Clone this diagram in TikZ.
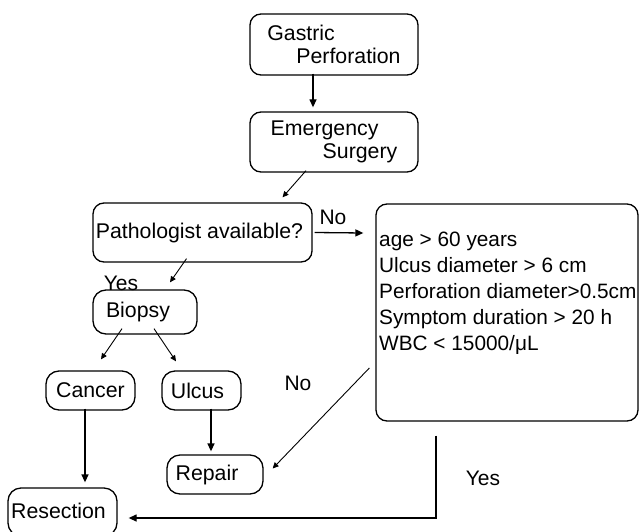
\documentclass[tikz,border=0pt]{standalone}
\usepackage{fontspec}
\setmainfont{Liberation Sans}
\usetikzlibrary{arrows.meta,calc}
\begin{document}
\begin{tikzpicture}[x=1pt,y=-1pt,
  box/.style={draw,line width=1.3pt,rounded corners=11pt,inner sep=0pt,font=\fontsize{21.3}{23}\selectfont},
  smallbox/.style={box,rounded corners=13pt},
  lbl/.style={inner sep=0pt,font=\fontsize{21}{23}\selectfont},
  arr/.style={line width=1.3pt,-{Triangle[length=8pt,width=7pt]}},
  darr/.style={line width=0.9pt,-{Triangle[length=6pt,width=5.5pt]}}]
\useasboundingbox (0,0) rectangle (639,532);
\clip (0,0) rectangle (639,532);
\node[box,minimum width=168pt,minimum height=61pt,align=left] (gastric) at (334,44.5) {Gastric\\\hspace{29pt}Perforation};
\node[box,minimum width=168pt,minimum height=60pt,align=left] (emerg) at (334,142) {Emergency\\\hspace{52pt}Surgery};
\node[box,minimum width=219pt,minimum height=59pt] (path) at (202.5,232.5) {\hspace{-6pt}Pathologist available?};
\node[box,minimum width=262pt,minimum height=217pt] (crit) at (507,312.5) {};
\node[lbl,anchor=north west,align=left,font=\fontsize{20.8}{26}\selectfont] (crittext) at (379,232) {age > 60 years\\Ulcus diameter > 6 cm\\Perforation diameter>0.5cm\\Symptom duration > 20 h\\WBC < 15000/μL};
\node[smallbox,minimum width=104pt,minimum height=44pt] (biopsy) at (145,312) {\hspace{-14pt}Biopsy};
\node[smallbox,minimum width=89pt,minimum height=39pt] (cancer) at (90.5,390.5) {Cancer};
\node[smallbox,minimum width=79pt,minimum height=39pt] (ulcus) at (201.5,390.5) {\hspace{-8pt}Ulcus};
\node[smallbox,minimum width=96pt,minimum height=39pt] (repair) at (215,474.5) {\hspace{-16pt}Repair};
\node[smallbox,minimum width=109pt,minimum height=48pt] (resection) at (62.5,512) {\raisebox{3pt}{\hspace{-8pt}Resection}};
\node[lbl] (no1) at (333,217) {No};
\node[lbl] (yes1) at (121,283) {Yes};
\node[lbl] (no2) at (298,383) {No};
\node[lbl] (yes2) at (483,478) {Yes};
\coordinate (corner) at (436,518);
\draw[arr] ($(gastric.south)+(-21,-2)$) -- ($(emerg.north)+(-21,-4)$);
\draw[darr] ($(emerg.south)+(-28,-2)$) -- ($(path.north)+(80,-5)$);
\draw[arr] ($(path.east)+(2,0)$) -- ($(crit.west)+(-12,-79.5)$);
\draw[darr] ($(path.south)+(-16,-4)$) -- ($(biopsy.north)+(25,-7)$);
\draw[darr] ($(biopsy.south)+(-23,-6)$) -- ($(cancer.north)+(10.5,-11)$);
\draw[darr] ($(biopsy.south)+(9,-6)$) -- ($(ulcus.north)+(-25.5,-9)$);
\draw[arr] ($(cancer.south)+(-5.5,-2)$) -- ($(resection.north)+(22.5,-5)$);
\draw[arr] ($(ulcus.south)+(9.5,-2)$) -- ($(repair.north)+(-4,-3)$);
\draw[darr] ($(crit.west)+(-6,55.5)$) -- ($(repair.east)+(9,-6)$);
\draw[arr] ($(crit.south)+(-71,14)$) -- (corner) -- ($(resection.east)+(11,6)$);
\end{tikzpicture}
\end{document}
